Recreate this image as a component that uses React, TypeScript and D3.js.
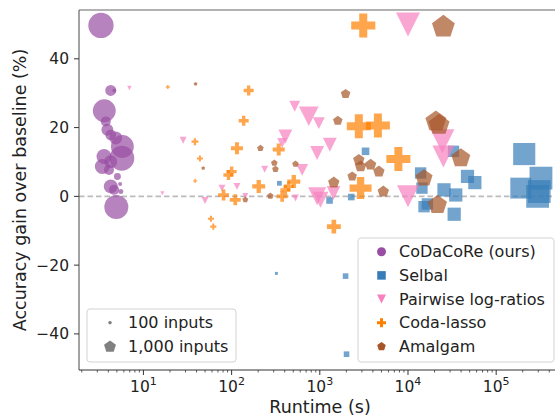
import React from 'react'
import * as d3 from 'd3'

// [runtime (s), accuracy gain (%), number of inputs]
const codacore = [
  [3.3, 49.7, 3300], [4.26, 30.8, 620], [4.68, 30.8, 85], [3.6, 24.9, 2700],
  [3.74, 21.8, 520], [3.9, 19.4, 740], [4.26, 17.9, 600], [4.86, 17.0, 870],
  [5.77, 14.5, 2700], [5.69, 11.1, 3200], [3.57, 11.6, 1160], [3.42, 8.7, 1160],
  [4.26, 10.1, 870], [4.07, 7.7, 520], [5.07, 5.8, 250], [4.26, 2.9, 1000],
  [4.65, 1.9, 520], [5.54, 1.4, 130], [5.44, 3.6, 85], [4.93, -3.1, 2975],
]
const selbal = [
  [348, 3.8, 130], [1290, -1.2, 250], [3300, 13.1, 330], [2275, -0.2, 250],
  [13900, 6.8, 740], [14400, 2.4, 740], [25600, 1.9, 1000], [34800, 0.4, 1000],
  [32800, 13.1, 740], [47300, 5.8, 1000], [57300, 4.0, 1000], [16600, -2.2, 740],
  [33400, -5.2, 1000], [15200, -3.0, 740], [208000, 12.3, 2800], [322000, 5.3, 2975],
  [190000, 2.4, 2500], [295000, 0.0, 2975], [308000, 1.4, 2975],
  [322, -22.4, 50], [1960, -23.2, 180], [2010, -45.9, 180],
]
const pairwise = [
  [6.93, 31.5, 100], [28.2, 16.3, 250], [16.4, 0.9, 85], [49.9, -1.2, 250],
  [77.8, 2.4, 250], [115, 2.9, 250], [143, 0.1, 190], [237, 7.9, 250],
  [407, 17.4, 1000], [374, 15.5, 520], [933, 12.6, 1000], [1300, 15.0, 1000],
  [631, 7.7, 740], [530, -0.5, 250], [933, 0.0, 1670], [1018, -1.0, 1300],
  [1430, 1.0, 1000], [520, 26.2, 620], [750, 23.3, 2000], [975, 21.3, 740],
  [10000, 0.0, 2500], [24600, 16.0, 2975], [25200, 11.6, 2500], [10000, 50.0, 2975],
]
const codaLasso = [
  [18.9, 31.8, 85], [38.4, 15.9, 250], [43.7, 11.0, 190], [38.6, 4.5, 85],
  [58.3, -6.5, 190], [62, -8.8, 190], [156, 30.8, 520], [137, 22.0, 520],
  [115, 14.0, 740], [100, 7.2, 520], [92, 6.2, 520], [342, 13.6, 740],
  [203, 2.9, 870], [81, 0.4, 620], [110, -1.0, 620], [507, 4.3, 870],
  [407, 1.9, 520], [444, 2.9, 520], [374, 0.0, 620], [1443, -8.8, 1000],
  [3110, 49.7, 3000], [2770, 20.4, 2975], [4560, 20.6, 2975], [7780, 10.9, 2975],
  [2900, 2.4, 2500],
]
const amalgam = [
  [39, 32.7, 85], [47.6, 8.2, 85], [212, 14.0, 250], [305, 9.7, 250],
  [314, 7.9, 250], [530, 9.4, 250], [275, 0.1, 250], [143, -1.0, 190],
  [1440, 4.0, 740], [25200, 49.3, 2975], [1960, 29.8, 520], [1600, 22.0, 520],
  [20700, 21.8, 2500], [22500, 20.8, 2500], [2770, 10.6, 740], [2900, 8.7, 740],
  [3770, 9.2, 740], [4680, 7.2, 740], [2330, 5.8, 520], [5250, 1.4, 740],
  [15200, 5.3, 1670], [21600, -2.5, 2066], [39700, 11.1, 2066],
]

const methods = ['CoDaCoRe (ours)', 'Selbal', 'Pairwise log-ratios', 'Coda-lasso', 'Amalgam']
const methodData = [codacore, selbal, pairwise, codaLasso, amalgam]
const colors = ['#984ea3', '#377eb8', '#f781bf', '#ff7f00', '#a65628']
const shapes = ['circle', 'square', 'triangle', 'plus', 'pentagon']

const yTicks = [-40, -20, 0, 20, 40]
const xDecades = [1, 2, 3, 4, 5]
const sizeLegend = [100, 1000]

const W = 555
const H = 419
const left = 79
const right = 561
const top = 10
const bottom = 370
const font = 'DejaVu Sans, sans-serif'

function shapePath(shape: string, cx: number, cy: number, r: number) {
  const p = d3.path()
  if (shape === 'circle') {
    p.arc(cx, cy, r, 0, 2 * Math.PI)
  } else if (shape === 'square') {
    const s = r * 0.95
    p.rect(cx - s, cy - s, 2 * s, 2 * s)
  } else if (shape === 'triangle') {
    p.moveTo(cx - r, cy - r)
    p.lineTo(cx + r, cy - r)
    p.lineTo(cx, cy + r)
    p.closePath()
  } else if (shape === 'plus') {
    const a = r / 3
    const pts = [
      [-a, -r], [a, -r], [a, -a], [r, -a], [r, a], [a, a],
      [a, r], [-a, r], [-a, a], [-r, a], [-r, -a], [-a, -a],
    ]
    pts.forEach(([dx, dy], i) => (i ? p.lineTo(cx + dx, cy + dy) : p.moveTo(cx + dx, cy + dy)))
    p.closePath()
  } else {
    for (let i = 0; i < 5; i++) {
      const ang = -Math.PI / 2 + (i * 2 * Math.PI) / 5
      const x = cx + r * Math.cos(ang)
      const y = cy + r * Math.sin(ang)
      i ? p.lineTo(x, y) : p.moveTo(x, y)
    }
    p.closePath()
  }
  return p.toString()
}

export default function App() {
  const x = d3.scaleLog().domain([1.86, 10 ** 5.735]).range([left, right])
  const y = d3.scaleLinear().domain([-50.5, 54.2]).range([bottom, top])
  const size = d3.scaleSqrt().domain([0, 100]).range([0, 2.2])

  const minorTicks: number[] = []
  d3.range(0, 6).forEach((d) => {
    d3.range(2, 10).forEach((k) => {
      const v = k * 10 ** d
      if (x(v) >= left && x(v) <= W) minorTicks.push(v)
    })
  })

  return (
    <svg width={W} height={H} style={{ position: 'absolute', left: 0, top: 0, background: '#fff' }} fontFamily={font}>
      {/* baseline */}
      <line x1={left} x2={right} y1={y(0)} y2={y(0)} stroke="#bbbbbb" strokeWidth={1.8} strokeDasharray="5.5,3" />

      {methodData.map((data, m) => (
        <g key={methods[m]} fill={colors[m]} fillOpacity={0.7}>
          {data.map((d, i) => (
            <path key={i} d={shapePath(shapes[m], x(d[0]), y(d[1]), size(d[2]))} />
          ))}
        </g>
      ))}

      {/* spines */}
      <line x1={left} x2={left} y1={top} y2={bottom} stroke="#666" strokeWidth={1.2} />
      <line x1={left} x2={W} y1={top} y2={top} stroke="#666" strokeWidth={1.2} />
      <line x1={left} x2={W} y1={bottom} y2={bottom} stroke="#333" strokeWidth={1} />

      {/* y axis */}
      {yTicks.map((t) => (
        <g key={t}>
          <line x1={left - 5} x2={left} y1={y(t)} y2={y(t)} stroke="#333" />
          <text x={left - 10} y={y(t) + 5.5} textAnchor="end" fontSize={15.5} fill="#222">
            {t < 0 ? `\u2212${-t}` : t}
          </text>
        </g>
      ))}

      {/* x axis */}
      {minorTicks.map((t) => (
        <line key={t} x1={x(t)} x2={x(t)} y1={bottom} y2={bottom + 2.5} stroke="#333" strokeWidth={0.8} />
      ))}
      {xDecades.map((d) => (
        <g key={d}>
          <line x1={x(10 ** d)} x2={x(10 ** d)} y1={bottom} y2={bottom + 5} stroke="#333" />
          <text x={x(10 ** d)} y={bottom + 22} textAnchor="middle" fontSize={15.5} fill="#222">
            <tspan>10</tspan>
            <tspan dy={-7} fontSize={11}>{d}</tspan>
          </text>
        </g>
      ))}

      <text x={(left + right) / 2} y={413} textAnchor="middle" fontSize={17.5} fill="#222">
        Runtime (s)
      </text>
      <text transform={`translate(26, ${(top + bottom) / 2}) rotate(-90)`} textAnchor="middle" fontSize={17.5} fill="#222">
        Accuracy gain over baseline (%)
      </text>

      {/* method legend */}
      <rect x={358} y={238} width={196} height={124} rx={3} fill="#fff" fillOpacity={0.85} stroke="#d3d3d3" />
      {methods.map((name, m) => {
        const ly = 251.7 + m * 23.7
        return (
          <g key={name}>
            <path d={shapePath(shapes[m], 381.5, ly, 4.5)} fill={colors[m]} />
            <text x={399} y={ly + 5.5} fontSize={16} fill="#222">{name}</text>
          </g>
        )
      })}

      {/* size legend */}
      <rect x={87} y={309} width={149} height={53} rx={3} fill="#fff" fillOpacity={0.85} stroke="#d3d3d3" />
      {sizeLegend.map((n, i) => {
        const ly = 322.7 + i * 24
        return (
          <g key={n}>
            <path d={shapePath('pentagon', 110, ly, size(n) * 0.9)} fill="#808080" />
            <text x={128} y={ly + 5.5} fontSize={16} fill="#222">
              {n === 100 ? '100 inputs' : '1,000 inputs'}
            </text>
          </g>
        )
      })}
    </svg>
  )
}
